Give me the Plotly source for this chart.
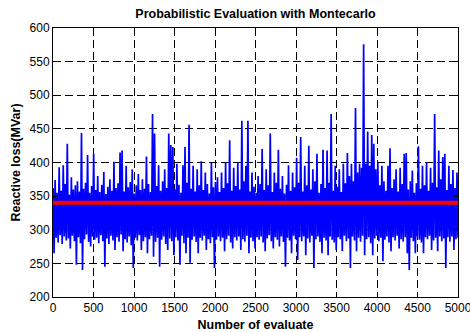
import numpy as np
import plotly.graph_objects as go

# Axis ticks
x_ticks = list(range(0, 5001, 500))
y_ticks = list(range(200, 601, 50))

n_evaluations = 5000
mean_loss = 340  # reference level drawn in red

# Upper and lower excursions of the reactive loss (MVar), one pair per block of 25 evaluations
upper_loss = [
    362, 374, 355, 393, 358, 396, 368, 428, 352, 378, 360, 366, 372, 357, 444, 361, 370, 411, 355, 365,
    413, 359, 380, 356, 367, 386, 353, 364, 375, 358, 401, 362, 369, 415, 418, 357, 395, 363, 371, 390,
    354, 366, 383, 359, 375, 361, 409, 368, 356, 472, 443, 365, 396, 358, 372, 390, 362, 443, 426, 423,
    360, 398, 367, 355, 396, 423, 370, 456, 361, 395, 357, 390, 366, 402, 359, 385, 368, 354, 400, 363,
    371, 378, 356, 385, 362, 400, 369, 433, 358, 392, 365, 400, 360, 462, 372, 395, 462, 357, 385, 364,
    355, 380, 368, 420, 359, 390, 366, 443, 356, 385, 370, 419, 361, 380, 354, 367, 396, 358, 385, 363,
    407, 370, 438, 357, 395, 366, 425, 360, 390, 372, 413, 355, 368, 419, 362, 418, 370, 472, 358, 395,
    364, 390, 356, 398, 369, 414, 380, 398, 372, 481, 385, 398, 392, 576, 398, 446, 395, 441, 428, 390,
    400, 366, 395, 372, 358, 395, 421, 362, 375, 390, 357, 392, 368, 413, 414, 360, 372, 388, 355, 369,
    424, 361, 395, 366, 400, 358, 392, 370, 472, 363, 418, 375, 408, 413, 359, 395, 368, 389, 362, 385,
]
lower_loss = [
    265, 288, 281, 292, 279, 290, 284, 287, 272, 291, 283, 248, 289, 280, 240, 286, 293, 282, 275, 290,
    285, 288, 280, 292, 283, 245, 287, 279, 291, 284, 270, 289, 282, 293, 268, 286, 281, 290, 277, 243,
    288, 284, 292, 270, 283, 289, 265, 286, 291, 260, 282, 288, 245, 285, 290, 279, 270, 287, 283, 262,
    289, 284, 248, 291, 280, 265, 288, 251, 285, 290, 282, 265, 288, 284, 291, 270, 286, 280, 289, 243,
    285, 290, 283, 288, 268, 286, 291, 281, 272, 289, 284, 290, 270, 286, 282, 291, 265, 288, 283, 272,
    289, 285, 290, 281, 268, 287, 292, 283, 272, 289, 285, 275, 290, 282, 245, 288, 284, 265, 291, 286,
    255, 289, 283, 290, 262, 287, 281, 291, 243, 286, 290, 282, 265, 288, 284, 262, 290, 285, 281, 270,
    289, 286, 268, 291, 283, 287, 243, 290, 284, 268, 288, 282, 291, 262, 286, 289, 280, 262, 287, 291,
    283, 288, 253, 285, 290, 281, 268, 289, 284, 291, 272, 286, 282, 289, 265, 240, 288, 283, 265, 290,
    285, 281, 265, 289, 286, 291, 270, 284, 288, 268, 290, 283, 287, 243, 289, 282, 290, 270, 286, 288,
]

# Interleave the excursions into one evaluation sequence
loss = np.empty(2 * len(upper_loss))
loss[0::2] = upper_loss
loss[1::2] = lower_loss
evaluation = np.linspace(1, n_evaluations, loss.size)

FONT = "Liberation Sans, Arial, sans-serif"

fig = go.Figure()
fig.add_trace(go.Scatter(
    x=evaluation, y=loss, mode="lines",
    line=dict(color="#0000ff", width=1.7, simplify=False), hoverinfo="skip",
))
fig.add_trace(go.Scatter(
    x=[0, n_evaluations], y=[mean_loss, mean_loss], mode="lines",
    line=dict(color="#ff0000", width=4), hoverinfo="skip",
))

axis_common = dict(
    showline=True, linecolor="black", linewidth=1, mirror="ticks",
    ticks="inside", ticklen=5, tickcolor="black", tickwidth=1,
    showgrid=True, gridcolor="black", gridwidth=1, griddash="8px,4px",
    zeroline=False, automargin=False, ticklabeloverflow="allow",
    tickfont=dict(family=FONT, size=12, color="black"),
)

fig.update_layout(
    width=470, height=332,
    margin=dict(l=53, r=12, t=28, b=35),
    paper_bgcolor="white", plot_bgcolor="white",
    showlegend=False,
    title=dict(
        text="Probabilistic Evaluation with Montecarlo",
        font=dict(family=FONT, size=12.5, color="black", weight="bold"),
        x=0.5, xref="paper", xanchor="center",
        y=1 - 14 / 332, yref="container", yanchor="middle",
    ),
    xaxis=dict(
        range=[0, n_evaluations], tickvals=x_ticks, ticktext=[str(v) for v in x_ticks],
        title=dict(text="Number of evaluate", standoff=5,
                   font=dict(family=FONT, size=12.5, color="black", weight="bold")),
        **axis_common,
    ),
    yaxis=dict(
        range=[200, 600], tickvals=y_ticks, ticktext=[str(v) for v in y_ticks],
        title=dict(text="Reactive loss(MVar)", standoff=6,
                   font=dict(family=FONT, size=12.5, color="black", weight="bold")),
        **axis_common,
    ),
)

fig.write_html("out.html")
